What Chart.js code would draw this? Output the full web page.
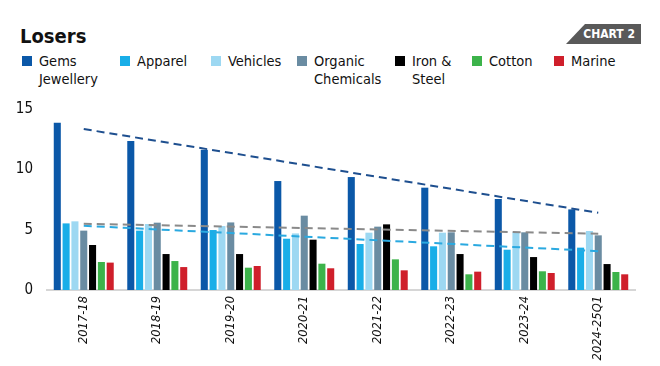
<!DOCTYPE html>
<html>
<head>
<meta charset="utf-8">
<script src="https://cdn.jsdelivr.net/npm/chart.js@4.4.1/dist/chart.umd.min.js"></script>
<style>
  html, body { margin: 0; padding: 0; background: #fff; }
  body { width: 660px; height: 366px; position: relative; overflow: hidden;
         font-family: "Liberation Sans Narrow", "DejaVu Sans Condensed", sans-serif; color: #111; }
  #title { position: absolute; left: 20px; top: 24px; font-size: 20px; font-weight: bold; }
  #badge { position: absolute; left: 566px; top: 24px; width: 75px; height: 20px; background: #595959;
           clip-path: polygon(19px 0, 100% 0, 100% 100%, 0 100%); color: #fff; font-weight: bold;
           font-size: 12px; line-height: 20px; text-align: right; box-sizing: border-box; padding-right: 6px; }
  .lg { position: absolute; top: 52px; font-size: 14.5px; line-height: 18px; }
  .lg i { position: absolute; left: -17px; top: 4px; width: 10px; height: 10px; }
  #wrap { position: absolute; left: 0; top: 0; width: 660px; height: 366px; }
</style>
</head>
<body>
<div id="title">Losers</div>
<div id="badge">CHART 2</div>
<div id="legend"></div>
<div id="wrap"><canvas id="c" width="660" height="366"></canvas></div>
<script>
// categories and series
const years = ['2017-18', '2018-19', '2019-20', '2020-21', '2021-22', '2022-23', '2023-24', '2024-25Q1'];
const gems     = [13.86, 12.34, 11.63, 9.03, 9.36, 8.48, 7.54, 6.68];
const apparel  = [5.52, 4.92, 4.97, 4.25, 3.81, 3.62, 3.34, 3.51];
const vehicles = [5.69, 5.47, 5.30, 4.69, 4.75, 4.75, 4.78, 4.89];
const organic  = [4.92, 5.58, 5.60, 6.16, 5.25, 4.78, 4.78, 4.53];
const iron     = [3.73, 2.98, 2.98, 4.17, 5.44, 2.98, 2.73, 2.15];
const cotton   = [2.32, 2.40, 1.85, 2.18, 2.54, 1.30, 1.55, 1.49];
const marine   = [2.27, 1.90, 1.99, 1.80, 1.63, 1.52, 1.41, 1.30];
// dashed trend lines, endpoints
const gemsTrend    = [13.34, null, null, null, null, null, null, 6.40];
const greyTrend    = [5.48, null, null, null, null, null, null, 4.66];
const apparelTrend = [5.32, null, null, null, null, null, null, 3.22];
const yTicks = [0, 5, 10, 15];

const series = [
  { label: ['Gems', 'Jewellery'], data: gems, color: '#0b58a8', x: 39 },
  { label: ['Apparel'], data: apparel, color: '#19aee8', x: 137 },
  { label: ['Vehicles'], data: vehicles, color: '#9dd8f2', x: 228 },
  { label: ['Organic', 'Chemicals'], data: organic, color: '#6a8ca2', x: 314 },
  { label: ['Iron &', 'Steel'], data: iron, color: '#000000', x: 412 },
  { label: ['Cotton'], data: cotton, color: '#3cb34a', x: 489 },
  { label: ['Marine'], data: marine, color: '#cf1f2b', x: 571 }
];

// legend
const lg = document.getElementById('legend');
series.forEach(s => {
  const d = document.createElement('div');
  d.className = 'lg';
  d.style.left = s.x + 'px';
  d.innerHTML = '<i style="background:' + s.color + '"></i>' + s.label.join('<br>');
  lg.appendChild(d);
});

const datasets = series.map(s => ({
  type: 'bar',
  label: s.label.join(' '),
  data: s.data,
  backgroundColor: s.color,
  categoryPercentage: 0.84,
  barPercentage: 0.8,
  order: 2
}));

function trend(data, color) {
  return {
    type: 'line', data: data, borderColor: color, borderWidth: 2, borderDash: [8, 5],
    pointRadius: 0, spanGaps: true, fill: false, order: 1
  };
}
datasets.push(trend(gemsTrend, '#1e4f8f'));
datasets.push(trend(greyTrend, '#8a8a8a'));
datasets.push(trend(apparelTrend, '#2aa9e0'));

new Chart(document.getElementById('c'), {
  type: 'bar',
  data: { labels: years, datasets: datasets },
  options: {
    responsive: false,
    animation: false,
    layout: { padding: { top: 109, right: 25, left: 0, bottom: 0 } },
    plugins: { legend: { display: false }, tooltip: { enabled: false } },
    scales: {
      x: {
        grid: { display: false, drawTicks: false },
        border: { display: true, color: '#d6d6d6', width: 2 },
        ticks: {
          maxRotation: 90, minRotation: 90, padding: 6, color: '#111',
          font: { family: 'DejaVu Sans', size: 11.5, style: 'italic' }
        },
        afterFit: scale => { scale.height = 76; }
      },
      y: {
        min: 0, max: 15,
        afterBuildTicks: scale => { scale.ticks = yTicks.map(v => ({ value: v })); },
        grid: { display: false, drawTicks: false },
        border: { display: false },
        ticks: {
          padding: 14, color: '#111',
          font: { family: "'Liberation Sans Narrow', 'DejaVu Sans Condensed', sans-serif", size: 15 }
        },
        afterFit: scale => { scale.width = 47; }
      }
    }
  }
});
</script>
</body>
</html>
